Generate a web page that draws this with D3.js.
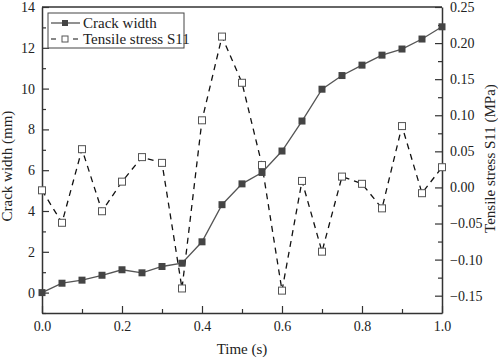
<!DOCTYPE html>
<html>
<head>
<meta charset="utf-8">
<script src="https://cdn.jsdelivr.net/npm/d3@7"></script>
<style>
  body { margin: 0; background: #fff; }
  svg { display: block; font-family: "Liberation Serif", "Times New Roman", serif; }
</style>
</head>
<body>
<svg></svg>
<script>
const times = [0, 0.05, 0.1, 0.15, 0.2, 0.25, 0.3, 0.35, 0.4, 0.45, 0.5,
    0.55, 0.6, 0.65, 0.7, 0.75, 0.8, 0.85, 0.9, 0.95, 1.0];
const crackWidth = [0, 0.46, 0.61, 0.85, 1.12, 0.97, 1.28, 1.44, 2.49, 4.31, 5.33,
    5.89, 6.94, 8.41, 9.97, 10.64, 11.15, 11.64, 11.94, 12.43, 13.03];
const tensileStress = [-0.004, -0.049, 0.053, -0.033, 0.008, 0.042, 0.034, -0.140, 0.093, 0.209, 0.145,
    0.031, -0.143, 0.009, -0.089, 0.015, 0.005, -0.029, 0.085, -0.008, 0.028];
const xTicks = [0, 0.2, 0.4, 0.6, 0.8, 1.0];
const leftTicks = [0, 2, 4, 6, 8, 10, 12, 14];
const rightTicks = [-0.15, -0.10, -0.05, 0.00, 0.05, 0.10, 0.15, 0.20, 0.25];

const svgWidth = 498;
const svgHeight = 358;
const margin = { top: 7, right: 56, bottom: 45, left: 42 };
const width = svgWidth - margin.left - margin.right;
const height = svgHeight - margin.top - margin.bottom;
const axisColor = '#333';

const svg = d3.select('svg')
    .attr('width', svgWidth)
    .attr('height', svgHeight)
    .append('g')
    .attr('transform', `translate(${margin.left}, ${margin.top})`);

const xScale = d3.scaleLinear().domain([0, 1]).range([0, width]);
const yLeft = d3.scaleLinear().domain([-1, 14]).range([height, 0]);
const yRight = d3.scaleLinear().domain([-0.174, 0.25]).range([height, 0]);

function styleAxis(g) {
    g.select('.domain').attr('stroke', axisColor).attr('stroke-width', 1.5);
    g.selectAll('.tick line').attr('stroke', axisColor).attr('stroke-width', 1.2);
    g.selectAll('.tick text').attr('fill', '#222').attr('font-size', '14px')
        .attr('font-family', '"Liberation Serif", serif');
}

// minor ticks
const minorX = d3.range(0.1, 1, 0.2);
const minorL = d3.range(-1, 14, 2);
const minorR = d3.range(-0.125, 0.25, 0.05);

svg.append('g')
    .attr('transform', `translate(0, ${height})`)
    .call(d3.axisBottom(xScale).tickValues(minorX).tickSize(-4).tickFormat(''))
    .call(g => g.select('.domain').remove())
    .selectAll('line').attr('stroke', axisColor).attr('stroke-width', 1.2);
svg.append('g')
    .call(d3.axisLeft(yLeft).tickValues(minorL).tickSize(-4).tickFormat(''))
    .call(g => g.select('.domain').remove())
    .selectAll('line').attr('stroke', axisColor).attr('stroke-width', 1.2);
svg.append('g')
    .attr('transform', `translate(${width}, 0)`)
    .call(d3.axisRight(yRight).tickValues(minorR).tickSize(-4).tickFormat(''))
    .call(g => g.select('.domain').remove())
    .selectAll('line').attr('stroke', axisColor).attr('stroke-width', 1.2);

// top border
svg.append('line')
    .attr('x1', 0).attr('x2', width).attr('y1', 0).attr('y2', 0)
    .attr('stroke', axisColor).attr('stroke-width', 1.5);

svg.append('g')
    .attr('transform', `translate(0, ${height})`)
    .call(d3.axisBottom(xScale).tickValues(xTicks).tickSize(-7).tickPadding(8).tickSizeOuter(0)
        .tickFormat(d3.format('.1f')))
    .call(styleAxis);

svg.append('g')
    .call(d3.axisLeft(yLeft).tickValues(leftTicks).tickSize(-7).tickPadding(7).tickSizeOuter(0))
    .call(styleAxis);

svg.append('g')
    .attr('transform', `translate(${width}, 0)`)
    .call(d3.axisRight(yRight).tickValues(rightTicks).tickSize(-7).tickPadding(8).tickSizeOuter(0)
        .tickFormat(d3.format('.2f')))
    .call(styleAxis);

// axis titles
svg.append('text')
    .attr('x', width / 2)
    .attr('y', height + 41)
    .attr('text-anchor', 'middle')
    .attr('fill', '#222')
    .attr('font-size', '15px')
    .text('Time (s)');

svg.append('text')
    .attr('transform', 'rotate(-90)')
    .attr('x', -(yLeft(6.2)))
    .attr('y', -30)
    .attr('text-anchor', 'middle')
    .attr('fill', '#222')
    .attr('font-size', '15px')
    .text('Crack width (mm)');

svg.append('text')
    .attr('transform', 'rotate(-90)')
    .attr('x', -(yRight(0.04)))
    .attr('y', width + 53)
    .attr('text-anchor', 'middle')
    .attr('fill', '#222')
    .attr('font-size', '15px')
    .text('Tensile stress S11 (MPa)');

// series
const crackData = times.map((t, i) => ({ t, v: crackWidth[i] }));
const stressData = times.map((t, i) => ({ t, v: tensileStress[i] }));

svg.append('path')
    .datum(stressData)
    .attr('fill', 'none')
    .attr('stroke', '#111')
    .attr('stroke-width', 1.3)
    .attr('stroke-dasharray', '6,5')
    .attr('d', d3.line().x(d => xScale(d.t)).y(d => yRight(d.v)));

svg.append('path')
    .datum(crackData)
    .attr('fill', 'none')
    .attr('stroke', '#555')
    .attr('stroke-width', 1.3)
    .attr('d', d3.line().x(d => xScale(d.t)).y(d => yLeft(d.v)));

svg.selectAll('.crack')
    .data(crackData)
    .enter().append('rect')
    .attr('class', 'crack')
    .attr('x', d => xScale(d.t) - 3.5)
    .attr('y', d => yLeft(d.v) - 3.5)
    .attr('width', 7)
    .attr('height', 7)
    .attr('fill', '#444');

svg.selectAll('.stress')
    .data(stressData)
    .enter().append('rect')
    .attr('class', 'stress')
    .attr('x', d => xScale(d.t) - 3.5)
    .attr('y', d => yRight(d.v) - 3.5)
    .attr('width', 7)
    .attr('height', 7)
    .attr('fill', '#fff')
    .attr('stroke', '#555')
    .attr('stroke-width', 1);

// legend
const legend = svg.append('g').attr('transform', 'translate(6, 6)');
legend.append('rect')
    .attr('width', 136).attr('height', 35)
    .attr('fill', '#fff').attr('stroke', '#444').attr('stroke-width', 1);

legend.append('line')
    .attr('x1', 3).attr('x2', 32).attr('y1', 10).attr('y2', 10)
    .attr('stroke', '#555').attr('stroke-width', 1.3);
legend.append('rect')
    .attr('x', 14).attr('y', 7).attr('width', 6).attr('height', 6).attr('fill', '#444');
legend.append('text')
    .attr('x', 35).attr('y', 15).attr('fill', '#222').attr('font-size', '15px')
    .text('Crack width');

legend.append('line')
    .attr('x1', 3).attr('x2', 32).attr('y1', 26).attr('y2', 26)
    .attr('stroke', '#111').attr('stroke-width', 1.2).attr('stroke-dasharray', '5,6');
legend.append('rect')
    .attr('x', 14).attr('y', 23).attr('width', 6).attr('height', 6)
    .attr('fill', '#fff').attr('stroke', '#555');
legend.append('text')
    .attr('x', 35).attr('y', 31).attr('fill', '#222').attr('font-size', '15px')
    .text('Tensile stress S11');
</script>
</body>
</html>
